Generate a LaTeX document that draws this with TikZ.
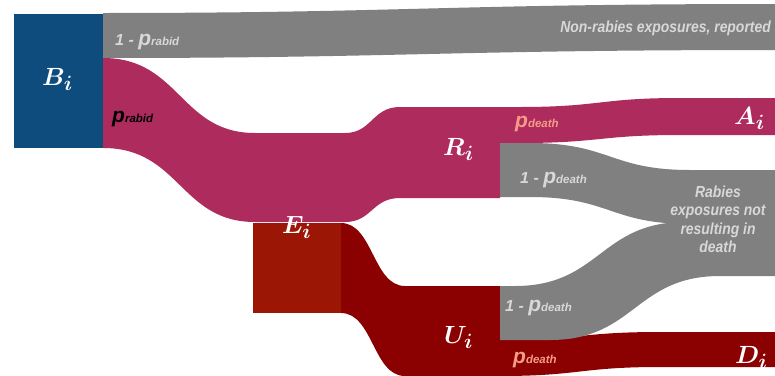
\documentclass[tikz,border=0pt]{standalone}
\usepackage{fontspec}
\setsansfont{Liberation Sans}
\definecolor{bblue}{RGB}{14,76,126}
\definecolor{rmag}{RGB}{174,43,94}
\definecolor{ebox}{RGB}{155,22,5}
\definecolor{udark}{RGB}{139,0,0}
\definecolor{fgray}{RGB}{128,128,128}
\definecolor{ltxt}{RGB}{216,216,216}
\definecolor{salm}{RGB}{246,156,132}
\newcommand\plab[2]{{\fontsize{16}{16}\selectfont #1}{\fontsize{21}{21}\selectfont p}{\fontsize{11.5}{11.5}\selectfont #2}}
\tikzset{
  band/.style={draw=none},
  statelab/.style={text=white, inner sep=0pt, anchor=base west, font=\fontsize{28}{28}\selectfont\boldmath},
  problab/.style={inner sep=0pt, anchor=base west, font=\sffamily\bfseries\itshape},
  outlab/.style={inner sep=0pt, anchor=base, text=ltxt, font=\sffamily\bfseries\itshape\fontsize{16}{16}\selectfont}
}
\begin{document}
\begin{tikzpicture}[x=1pt,y=-1pt]
\useasboundingbox (0,0) rectangle (775,375);
% non-rabies band
\fill[fgray] (103,13) .. controls (400,13) and (450,4) .. (775,4) -- (775,50)
  .. controls (450,50) and (400,58) .. (103,58) -- cycle;
% magenta band B -> E -> R -> A
\fill[rmag] (103,58) .. controls (180,58) and (180,133) .. (255,133) -- (345,133)
  .. controls (372,133) and (372,107) .. (400,107) -- (520,107)
  .. controls (600,107) and (600,98) .. (680,98) -- (775,98) -- (775,135) -- (680,135)
  .. controls (600,135) and (600,143) .. (520,143) -- (500,143) -- (500,198) -- (400,198)
  .. controls (372,198) and (372,222) .. (345,222) -- (255,222)
  .. controls (180,222) and (180,148) .. (103,148) -- cycle;
% gray from R
\fill[fgray] (500,143) -- (530,143) .. controls (610,143) and (610,170) .. (690,170) -- (775,170)
  -- (775,224) -- (690,224) .. controls (610,224) and (610,197) .. (530,197) -- (500,197) -- cycle;
% dark red E -> U -> D
\fill[udark] (341,223) .. controls (373,223) and (373,286) .. (405,286) -- (500,286) -- (500,340)
  .. controls (580,340) and (580,332) .. (660,332) -- (775,332) -- (775,367) -- (660,367)
  .. controls (580,367) and (580,376) .. (500,376) -- (405,376)
  .. controls (373,376) and (373,313) .. (341,313) -- cycle;
% gray from U
\fill[fgray] (500,286) -- (515,286) .. controls (600,286) and (600,222) .. (685,222) -- (775,222)
  -- (775,276) -- (720,276) .. controls (635,276) and (635,340) .. (550,340) -- (500,340) -- cycle;
% boxes
\fill[ebox] (253,223) rectangle (341,313);
\fill[bblue] (14,14) rectangle (103,148);
% state labels
\node[statelab] (B) at (42,85) {$B_i$};
\node[statelab] (E) at (282,233) {$E_i$};
\node[statelab] (R) at (443,155) {$R_i$};
\node[statelab] (U) at (444,343) {$U_i$};
\node[statelab] (A) at (734,124) {$A_i$};
\node[statelab] (D) at (735,363) {$D_i$};
% probability labels
\node[problab, text=ltxt] (l1) at (115,45) {\plab{1 - }{rabid}};
\node[problab, text=black] (l2) at (112,122) {\plab{}{rabid}};
\node[problab, text=salm] (l3) at (515,127) {\plab{}{death}};
\node[problab, text=ltxt] (l4) at (520,183) {\plab{1 - }{death}};
\node[problab, text=ltxt] (l5) at (505,311) {\plab{1 - }{death}};
\node[problab, text=salm] (l6) at (513,363) {\plab{}{death}};
% outcome labels
\node[outlab, anchor=base east] (nr) at (771,32) {\scalebox{0.87}[1]{Non-rabies exposures, reported}};
\node[outlab] (r1) at (718,197) {\scalebox{0.87}[1]{Rabies}};
\node[outlab] (r2) at (718,215) {\scalebox{0.87}[1]{exposures not}};
\node[outlab] (r3) at (718,234) {\scalebox{0.87}[1]{resulting in}};
\node[outlab] (r4) at (718,252) {\scalebox{0.87}[1]{death}};
\end{tikzpicture}
\end{document}
